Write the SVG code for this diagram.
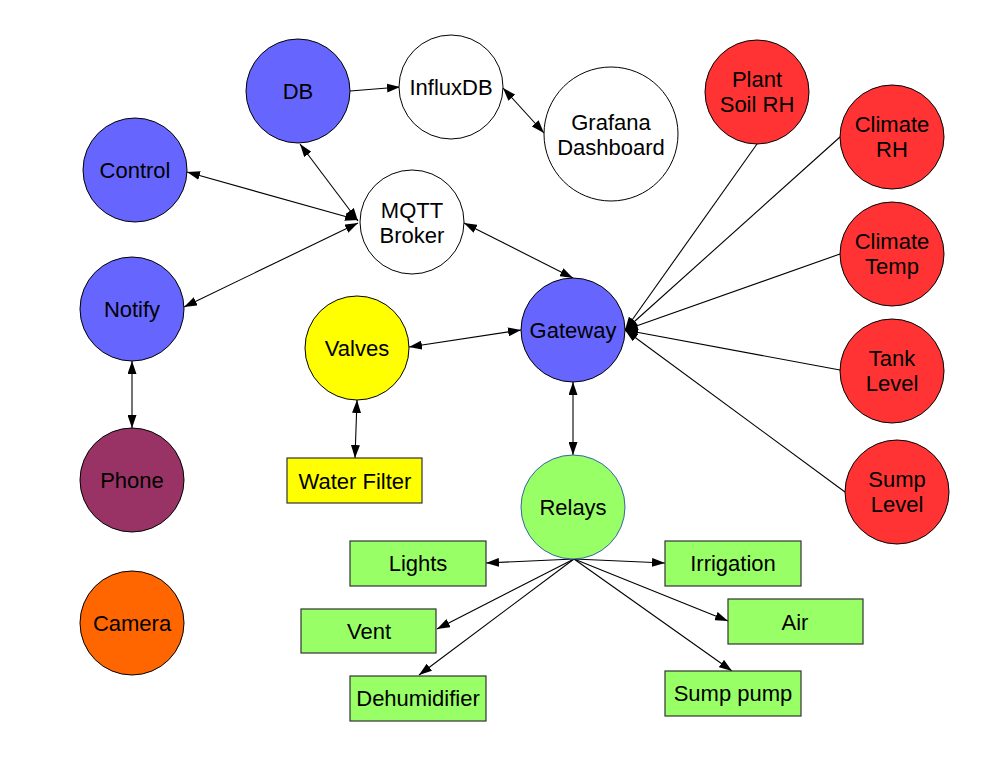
<svg xmlns="http://www.w3.org/2000/svg" width="990" height="765" viewBox="0 0 990 765">
<defs>
<marker id="ah" markerWidth="13" markerHeight="9" refX="13" refY="4.5" orient="auto-start-reverse" markerUnits="userSpaceOnUse">
<path d="M0,0 L13,4.5 L0,9 z" fill="#000"/>
</marker>
</defs>
<style>
text{font-family:"Liberation Sans",Arial,sans-serif;font-size:22px;fill:#000;text-anchor:middle}
circle{stroke:#000;stroke-width:1}
.box{stroke:#333;stroke-width:1.2}
.c line{stroke:#000;stroke-width:1.1;fill:none}
.blue{fill:#6666ff}.red{fill:#ff3333}.yel{fill:#ffff00}.grn{fill:#99ff66}.wht{fill:#fff}
</style>
<rect width="990" height="765" fill="#fff"/>
<g class="c">
<line x1="350" y1="91" x2="400" y2="87" marker-end="url(#ah)"/>
<line x1="503" y1="88" x2="544" y2="133" marker-start="url(#ah)" marker-end="url(#ah)"/>
<line x1="300" y1="144" x2="358" y2="221" marker-start="url(#ah)" marker-end="url(#ah)"/>
<line x1="187" y1="172" x2="358" y2="220" marker-start="url(#ah)" marker-end="url(#ah)"/>
<line x1="184" y1="307" x2="358" y2="223" marker-start="url(#ah)" marker-end="url(#ah)"/>
<line x1="464" y1="223" x2="573" y2="278" marker-start="url(#ah)" marker-end="url(#ah)"/>
<line x1="409" y1="347" x2="521" y2="330" marker-start="url(#ah)" marker-end="url(#ah)"/>
<line x1="357" y1="400" x2="355" y2="458" marker-start="url(#ah)" marker-end="url(#ah)"/>
<line x1="132" y1="361" x2="132" y2="428" marker-start="url(#ah)" marker-end="url(#ah)"/>
<line x1="573" y1="382" x2="573" y2="455" marker-start="url(#ah)" marker-end="url(#ah)"/>
<line x1="757" y1="144" x2="625" y2="330" marker-end="url(#ah)"/>
<line x1="840" y1="137" x2="625" y2="330" marker-end="url(#ah)"/>
<line x1="840" y1="254" x2="625" y2="330" marker-end="url(#ah)"/>
<line x1="840" y1="370" x2="625" y2="330" marker-end="url(#ah)"/>
<line x1="845" y1="492" x2="625" y2="330" marker-end="url(#ah)"/>
<line x1="574" y1="559" x2="486" y2="563" marker-end="url(#ah)"/>
<line x1="574" y1="559" x2="665" y2="563" marker-end="url(#ah)"/>
<line x1="574" y1="559" x2="437" y2="629" marker-end="url(#ah)"/>
<line x1="574" y1="559" x2="419" y2="675" marker-end="url(#ah)"/>
<line x1="574" y1="559" x2="728" y2="621" marker-end="url(#ah)"/>
<line x1="574" y1="559" x2="732" y2="671" marker-end="url(#ah)"/>
</g>
<g id="db"><circle class="blue" cx="298" cy="91" r="52"/><text x="298" y="99">DB</text></g>
<g id="influxdb"><circle class="wht" cx="451" cy="87" r="52"/><text x="451" y="95">InfluxDB</text></g>
<g id="grafana"><circle class="wht" cx="611" cy="134" r="67"/><text x="611" y="130">Grafana</text><text x="611" y="155">Dashboard</text></g>
<g id="control"><circle class="blue" cx="135" cy="170" r="52"/><text x="135" y="178">Control</text></g>
<g id="mqtt"><circle class="wht" cx="412" cy="222" r="52"/><text x="412" y="218">MQTT</text><text x="412" y="243">Broker</text></g>
<g id="notify"><circle class="blue" cx="132" cy="309" r="52"/><text x="132" y="317">Notify</text></g>
<g id="phone"><circle fill="#993366" cx="132" cy="480" r="52"/><text x="132" y="488">Phone</text></g>
<g id="camera"><circle fill="#ff6600" cx="132" cy="623" r="52"/><text x="132" y="631">Camera</text></g>
<g id="valves"><circle class="yel" cx="357" cy="348" r="52"/><text x="357" y="356">Valves</text></g>
<g id="gateway"><circle class="blue" cx="573" cy="330" r="52"/><text x="573" y="338">Gateway</text></g>
<g id="relays"><circle class="grn" cx="573" cy="507" r="52" style="stroke:#3465a4"/><text x="573" y="515">Relays</text></g>
<g id="plant"><circle class="red" cx="757" cy="92" r="52"/><text x="757" y="87">Plant</text><text x="757" y="112">Soil RH</text></g>
<g id="climaterh"><circle class="red" cx="892" cy="137" r="52"/><text x="892" y="132">Climate</text><text x="892" y="157">RH</text></g>
<g id="climatetemp"><circle class="red" cx="892" cy="254" r="52"/><text x="892" y="249">Climate</text><text x="892" y="274">Temp</text></g>
<g id="tank"><circle class="red" cx="892" cy="371" r="52"/><text x="892" y="366">Tank</text><text x="892" y="391">Level</text></g>
<g id="sump"><circle class="red" cx="897" cy="492" r="52"/><text x="897" y="487">Sump</text><text x="897" y="512">Level</text></g>
<g id="waterfilter"><rect class="box yel" x="287" y="458" width="135" height="45"/><text x="355" y="489">Water Filter</text></g>
<g id="lights"><rect class="box grn" x="350" y="541" width="136" height="45"/><text x="418" y="571">Lights</text></g>
<g id="irrigation"><rect class="box grn" x="665" y="541" width="136" height="45"/><text x="733" y="571">Irrigation</text></g>
<g id="vent"><rect class="box grn" x="301" y="609" width="135" height="44"/><text x="369" y="639">Vent</text></g>
<g id="air"><rect class="box grn" x="728" y="599" width="135" height="45"/><text x="795" y="630">Air</text></g>
<g id="dehumidifier"><rect class="box grn" x="350" y="676" width="136" height="45"/><text x="418" y="706">Dehumidifier</text></g>
<g id="sumppump"><rect class="box grn" x="665" y="671" width="136" height="45"/><text x="733" y="701">Sump pump</text></g>
</svg>
